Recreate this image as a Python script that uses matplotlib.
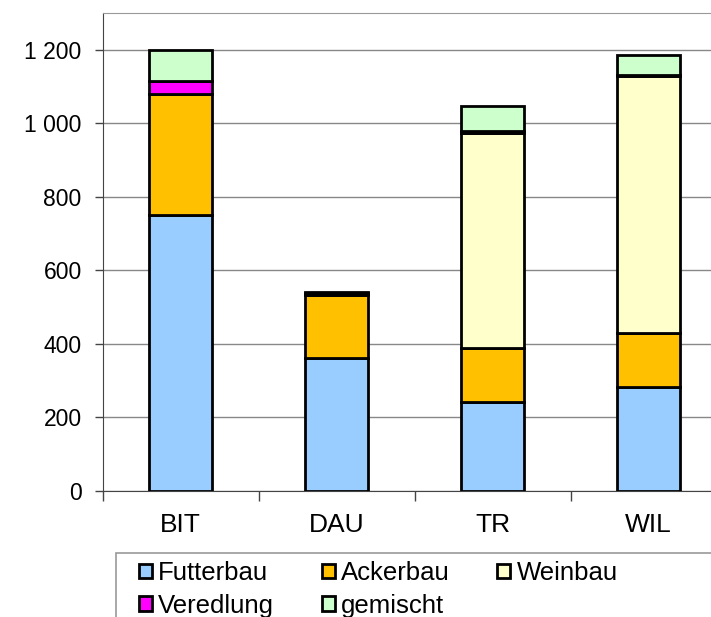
import numpy as np
import matplotlib.pyplot as plt
from matplotlib.patches import Rectangle
from matplotlib.ticker import FuncFormatter

plt.rcParams['font.family'] = ['Liberation Sans', 'DejaVu Sans']

regions   = ['BIT', 'DAU', 'TR', 'WIL']
futterbau = [750, 360, 242, 282]
ackerbau  = [330, 172, 145, 147]
weinbau   = [0, 3, 587, 699]
veredlung = [35, 2, 4, 4]
gemischt  = [85, 3, 68, 55]

series = [('Futterbau', futterbau, '#99CCFF'),
          ('Ackerbau', ackerbau, '#FFC000'),
          ('Weinbau', weinbau, '#FFFFCC'),
          ('Veredlung', veredlung, '#FF00FF'),
          ('gemischt', gemischt, '#CCFFCC')]

fig = plt.figure(figsize=(7.11, 6.17), dpi=100)
ax = fig.add_axes([0.1442, 0.2047, 0.8776, 0.7742])

x = np.arange(len(regions))
bottom = np.zeros(len(regions))
handles = {}
for name, vals, col in series:
    vals = np.array(vals, dtype=float)
    b = ax.bar(x, vals, 0.4, bottom=bottom, color=col, edgecolor='black',
               linewidth=2.0, zorder=3, label=name)
    handles[name] = b
    bottom += vals

ax.set_xlim(-0.5, 3.5)
ax.set_ylim(0, 1300)
ax.set_yticks(np.arange(0, 1201, 200))
ax.yaxis.set_major_formatter(FuncFormatter(lambda v, p: '{:,.0f}'.format(v).replace(',', ' ')))
ax.yaxis.grid(True, color='#888888', linewidth=1.0, zorder=0)
ax.set_axisbelow(True)

ax.set_xticks(x)
ax.set_xticklabels(regions, fontsize=19)
ax.set_xticks(np.arange(-0.5, 3.6, 1), minor=True)
ax.tick_params(axis='x', which='major', length=0, pad=16)
ax.tick_params(axis='x', which='minor', length=7, width=1, color='#444444')
ax.tick_params(axis='y', length=6, width=1, color='#444444', labelsize=16.5, pad=9)

ax.spines['right'].set_visible(False)
ax.spines['top'].set_color('#999999')
ax.spines['left'].set_color('#444444')
ax.spines['bottom'].set_color('#444444')

# legend box below the plot
fig.patches.append(Rectangle((116 / 711, -0.05), 1.0, (617 - 553) / 617 + 0.05,
                             transform=fig.transFigure, facecolor='white',
                             edgecolor='#999999', linewidth=1.2))
order = ['Futterbau', 'Veredlung', 'Ackerbau', 'gemischt', 'Weinbau']
fig.legend([handles[n] for n in order], order, loc='upper left',
           bbox_to_anchor=(139 / 711, (617 - 561) / 617), ncol=3, frameon=False,
           fontsize=18.5, handlelength=0.5, handleheight=0.5, handletextpad=0.25,
           columnspacing=1.85, labelspacing=0.34, borderaxespad=0, borderpad=0)

fig.savefig('out.png', dpi=100)
